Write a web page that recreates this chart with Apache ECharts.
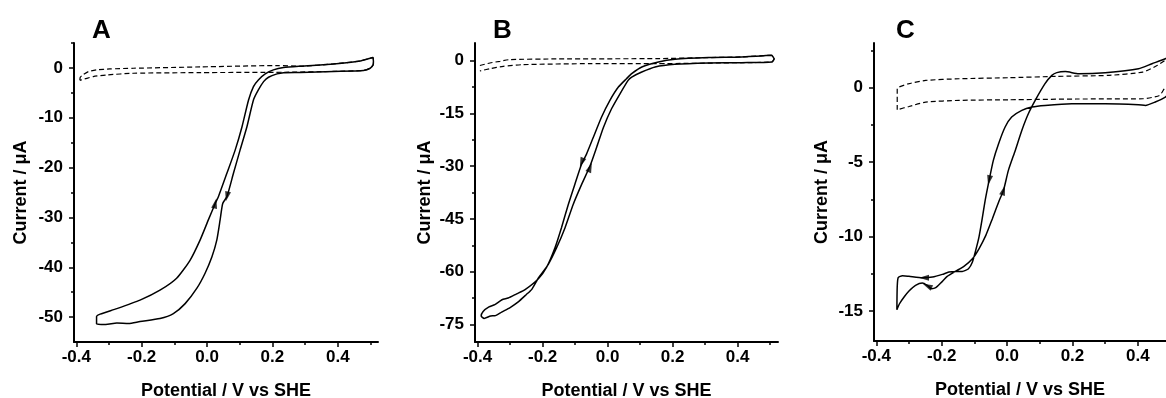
<!DOCTYPE html>
<html>
<head>
<meta charset="utf-8">
<script src="https://cdn.jsdelivr.net/npm/echarts@6/dist/echarts.min.js"></script>
<style>
html,body{margin:0;padding:0;background:#ffffff;}
#chart{width:1166px;height:398px;}
</style>
</head>
<body>
<div id="chart"></div>
<script>
// ---------- DATA ----------
const panelLetters = ['A', 'B', 'C'];
const xAxisName = 'Potential / V vs SHE';
const yAxisName = 'Current / \u03bcA';

const xMajorTicks = [-0.4, -0.2, 0.0, 0.2, 0.4];
const xMinorTicks = [-0.3, -0.1, 0.1, 0.3, 0.5];

const yMajorTicksA = [0, -10, -20, -30, -40, -50];
const yMinorTicksA = [5, -5, -15, -25, -35, -45];
const yMajorTicksB = [0, -15, -30, -45, -60, -75];
const yMinorTicksB = [-7.5, -22.5, -37.5, -52.5, -67.5];
const yMajorTicksC = [0, -5, -10, -15];
const yMinorTicksC = [2.5, -2.5, -7.5, -12.5];

// Panel A: solid CV (sample) and dashed CV (blank)
const solidA = [
  [0.508, 2.1], [0.509, 1.3], [0.508, 0.6], [0.499, -0.07], [0.479, -0.5], [0.387, -0.7], [0.285, -0.9],
  [0.234, -0.95], [0.214, -1.2], [0.188, -1.87], [0.173, -2.75], [0.157, -4.42], [0.142, -6.43],
  [0.122, -11.8], [0.101, -16.5], [0.081, -21.1], [0.061, -25.8], [0.048, -27.2], [0.040, -30.5],
  [0.030, -34.5], [0.015, -37.9], [-0.006, -41.2], [-0.031, -44.2], [-0.067, -47.3], [-0.103, -49.3],
  [-0.144, -50.3], [-0.205, -50.9], [-0.240, -51.3], [-0.276, -51.2], [-0.310, -51.5], [-0.338, -51.4],
  [-0.338, -49.9], [-0.327, -49.4], [-0.276, -48.3], [-0.205, -46.6], [-0.144, -44.6], [-0.093, -42.2],
  [-0.052, -38.6], [-0.021, -34.5], [0.004, -30.5], [0.025, -27.2], [0.035, -25.8], [0.061, -21.1],
  [0.086, -16.5], [0.107, -11.8], [0.127, -6.43], [0.142, -3.75], [0.157, -2.41], [0.178, -1.2],
  [0.203, -0.4], [0.234, 0.07], [0.285, 0.35], [0.387, 0.8], [0.469, 1.4], [0.499, 1.95], [0.508, 2.1]
];
const dashedA = [
  [-0.389, -2.5], [-0.388, -1.9], [-0.380, -1.4], [-0.363, -0.74], [-0.338, -0.40], [-0.297, -0.20],
  [-0.225, -0.07], [-0.021, 0.20], [0.214, 0.47], [0.285, 0.35], [0.387, 0.8], [0.469, 1.4],
  [0.499, 1.95], [0.508, 2.1], [0.509, 1.3], [0.508, 0.6], [0.499, -0.07], [0.479, -0.5],
  [0.387, -0.7], [0.234, -0.87], [-0.021, -0.94], [-0.225, -1.07], [-0.307, -1.41],
  [-0.348, -1.74], [-0.389, -2.5]
];
const arrowPointsA = [[0.025, -27.2], [0.061, -25.8]];
const arrowAnglesA = [-13, 167];

// Panel B
const solidB = [
  [0.505, 1.5], [0.412, 1.04], [0.310, 0.85], [0.207, 0.37], [0.156, -0.39], [0.105, -1.82],
  [0.074, -3.72], [0.058, -5.15], [0.033, -7.53], [0.007, -11.3], [-0.019, -16.1], [-0.044, -21.8],
  [-0.065, -26.6], [-0.080, -29.4], [-0.101, -35.2], [-0.121, -40.9], [-0.142, -47.5], [-0.162, -53.2],
  [-0.188, -58.8], [-0.213, -62.0], [-0.254, -65.1], [-0.280, -66.3], [-0.306, -67.5], [-0.325, -68.0],
  [-0.347, -69.4], [-0.365, -70.0], [-0.383, -71.3], [-0.389, -72.6], [-0.380, -73.3], [-0.360, -72.6],
  [-0.345, -72.5], [-0.326, -71.5], [-0.300, -70.2], [-0.275, -68.6], [-0.250, -66.5], [-0.234, -65.1],
  [-0.213, -61.8], [-0.183, -58.0], [-0.157, -53.2], [-0.131, -47.5], [-0.106, -40.9], [-0.080, -35.2],
  [-0.054, -29.9], [-0.034, -24.7], [-0.013, -19.0], [0.012, -13.7], [0.038, -9.44], [0.063, -5.63],
  [0.074, -4.68], [0.105, -3.25], [0.146, -1.82], [0.207, -1.06], [0.310, -0.68], [0.412, -0.58],
  [0.505, -0.39], [0.512, 0.5], [0.505, 1.5]
];
const dashedB = [
  [-0.393, -1.4], [-0.362, -0.68], [-0.331, -0.2], [-0.301, 0.28], [-0.157, 0.47], [0.151, 0.56],
  [0.310, 0.85], [0.412, 1.04], [0.505, 1.5], [0.512, 0.5], [0.505, -0.39], [0.412, -0.58],
  [0.151, -0.87], [-0.054, -0.87], [-0.260, -1.15], [-0.321, -1.63], [-0.362, -2.3], [-0.393, -2.96]
];
const arrowPointsB = [[-0.080, -29.0], [-0.054, -30.4]];
const arrowAnglesB = [159, -21];

// Panel C
const solidC = [
  [0.500, 2.2], [0.484, 1.94], [0.443, 1.61], [0.402, 1.27], [0.300, 1.01], [0.219, 0.94], [0.178, 1.08],
  [0.152, 1.01], [0.137, 0.83], [0.116, 0.27], [0.086, -0.85], [0.065, -1.75], [0.045, -2.87],
  [0.025, -4.21], [0.004, -5.55], [-0.011, -6.89], [-0.024, -7.57], [-0.045, -8.79], [-0.065, -9.91],
  [-0.086, -10.81], [-0.106, -11.48], [-0.132, -11.99], [-0.157, -12.31], [-0.183, -12.66],
  [-0.203, -13.11], [-0.218, -13.42], [-0.231, -13.49], [-0.244, -13.27], [-0.259, -13.11],
  [-0.280, -13.27], [-0.300, -13.65], [-0.315, -14.05], [-0.329, -14.50], [-0.337, -14.90],
  [-0.336, -13.38], [-0.333, -12.75], [-0.320, -12.62], [-0.300, -12.66], [-0.259, -12.75],
  [-0.228, -12.71], [-0.198, -12.53], [-0.178, -12.37], [-0.157, -12.33], [-0.137, -12.33],
  [-0.118, -12.15], [-0.106, -11.70], [-0.096, -10.92], [-0.086, -10.03], [-0.077, -8.91],
  [-0.067, -7.56], [-0.055, -6.22], [-0.042, -4.88], [-0.026, -3.76], [-0.006, -2.64], [0.014, -1.97],
  [0.045, -1.52], [0.076, -1.30], [0.116, -1.19], [0.198, -1.08], [0.300, -1.08], [0.402, -1.14],
  [0.423, -1.19], [0.453, -0.96], [0.484, -0.63], [0.500, -0.3]
];
const dashedC = [
  [-0.336, -1.48], [-0.336, -0.07], [-0.300, 0.27], [-0.249, 0.49], [-0.147, 0.60], [0.006, 0.67],
  [0.149, 0.76], [0.312, 0.83], [0.415, 1.05], [0.460, 1.5], [0.500, 2.1], [0.500, 0.3], [0.481, -0.07],
  [0.466, -0.52], [0.415, -0.74], [0.210, -0.76], [0.006, -0.81], [-0.147, -0.85], [-0.249, -0.97],
  [-0.300, -1.26], [-0.336, -1.48]
];
const arrowPointsC = [[-0.055, -6.22], [-0.011, -6.89], [-0.254, -12.75], [-0.244, -13.30]];
const arrowAnglesC = [168, -17, 90, 65];

// ---------- LAYOUT / STYLE ----------
const FONT = "'Liberation Sans', Arial, sans-serif";
const panels = [
  { letter: panelLetters[0], grid: { left: 74, top: 43, width: 304, height: 299 }, xRange: [-0.407, 0.523], yRange: [-55, 5],
    yMajor: yMajorTicksA, yMinor: yMinorTicksA, solid: solidA, dashed: dashedA, arrows: arrowPointsA, angles: arrowAnglesA, letterLeft: 92, yNameGap: 44 },
  { letter: panelLetters[1], grid: { left: 475, top: 43, width: 303, height: 299 }, xRange: [-0.408, 0.524], yRange: [-80, 5],
    yMajor: yMajorTicksB, yMinor: yMinorTicksB, solid: solidB, dashed: dashedB, arrows: arrowPointsB, angles: arrowAnglesB, letterLeft: 493, yNameGap: 41 },
  { letter: panelLetters[2], grid: { left: 874, top: 43, width: 292, height: 298 }, xRange: [-0.407, 0.486], yRange: [-17, 3],
    yMajor: yMajorTicksC, yMinor: yMinorTicksC, solid: solidC, dashed: dashedC, arrows: arrowPointsC, angles: arrowAnglesC, letterLeft: 896, yNameGap: 43 }
];

const grids = [], xAxes = [], yAxes = [], series = [], titles = [];
panels.forEach((p, i) => {
  grids.push(Object.assign({ containLabel: false, outerBoundsMode: 'none' }, p.grid));
  titles.push({ text: p.letter, left: p.letterLeft, top: 18, padding: 0,
    textStyle: { fontFamily: FONT, fontSize: 26, fontWeight: 'bold', color: '#000' } });
  // main x axis
  xAxes.push({
    type: 'value', gridIndex: i, min: p.xRange[0], max: p.xRange[1], position: 'bottom',
    axisLine: { show: true, onZero: false, lineStyle: { color: '#000', width: 2 } },
    axisTick: { show: true, customValues: xMajorTicks, length: 5, lineStyle: { color: '#000', width: 1.5 } },
    axisLabel: { customValues: xMajorTicks, formatter: v => v.toFixed(1), color: '#000', fontSize: 17,
      fontWeight: 'bold', fontFamily: FONT, margin: 7 },
    splitLine: { show: false },
    name: xAxisName, nameLocation: 'middle', nameGap: 40,
    nameTextStyle: { fontFamily: FONT, fontSize: 18, fontWeight: 'bold', color: '#000' }
  });
  // minor x ticks
  xAxes.push({
    type: 'value', gridIndex: i, min: p.xRange[0], max: p.xRange[1], position: 'bottom',
    axisLine: { show: false, onZero: false },
    axisTick: { show: true, customValues: xMinorTicks, length: 3, lineStyle: { color: '#000', width: 1.5 } },
    axisLabel: { show: false }, splitLine: { show: false }
  });
  // main y axis
  yAxes.push({
    type: 'value', gridIndex: i, min: p.yRange[0], max: p.yRange[1], position: 'left',
    axisLine: { show: true, onZero: false, lineStyle: { color: '#000', width: 2 } },
    axisTick: { show: true, customValues: p.yMajor, length: 5, lineStyle: { color: '#000', width: 1.5 } },
    axisLabel: { customValues: p.yMajor, formatter: v => String(v), color: '#000', fontSize: 17,
      fontWeight: 'bold', fontFamily: FONT, margin: 11 },
    splitLine: { show: false },
    name: yAxisName, nameLocation: 'middle', nameGap: p.yNameGap,
    nameTextStyle: { fontFamily: FONT, fontSize: 18, fontWeight: 'bold', color: '#000' }
  });
  // minor y ticks
  yAxes.push({
    type: 'value', gridIndex: i, min: p.yRange[0], max: p.yRange[1], position: 'left',
    axisLine: { show: false, onZero: false },
    axisTick: { show: true, customValues: p.yMinor, length: 3, lineStyle: { color: '#000', width: 1.5 } },
    axisLabel: { show: false }, splitLine: { show: false }
  });

  const xi = 2 * i, yi = 2 * i;
  series.push({
    type: 'line', xAxisIndex: xi, yAxisIndex: yi, data: p.dashed, showSymbol: false, smooth: 0.2,
    clip: true, lineStyle: { color: '#000', width: 1.2, type: [5, 3] }, silent: true, z: 2
  });
  series.push({
    type: 'line', xAxisIndex: xi, yAxisIndex: yi, data: p.solid, showSymbol: false, smooth: 0.2,
    clip: true, lineStyle: { color: '#000', width: 1.5 }, silent: true, z: 3
  });
  series.push({
    type: 'scatter', xAxisIndex: xi, yAxisIndex: yi, silent: true, z: 4,
    data: p.arrows.map((pt, k) => ({ value: pt, symbolRotate: p.angles[k] })),
    symbol: 'triangle', symbolSize: [6, 10], itemStyle: { color: '#000' }
  });
});

const chart = echarts.init(document.getElementById('chart'), null, { renderer: 'canvas' });
chart.setOption({
  animation: false,
  backgroundColor: '#ffffff',
  title: titles,
  grid: grids,
  xAxis: xAxes,
  yAxis: yAxes,
  series: series
});
</script>
</body>
</html>
